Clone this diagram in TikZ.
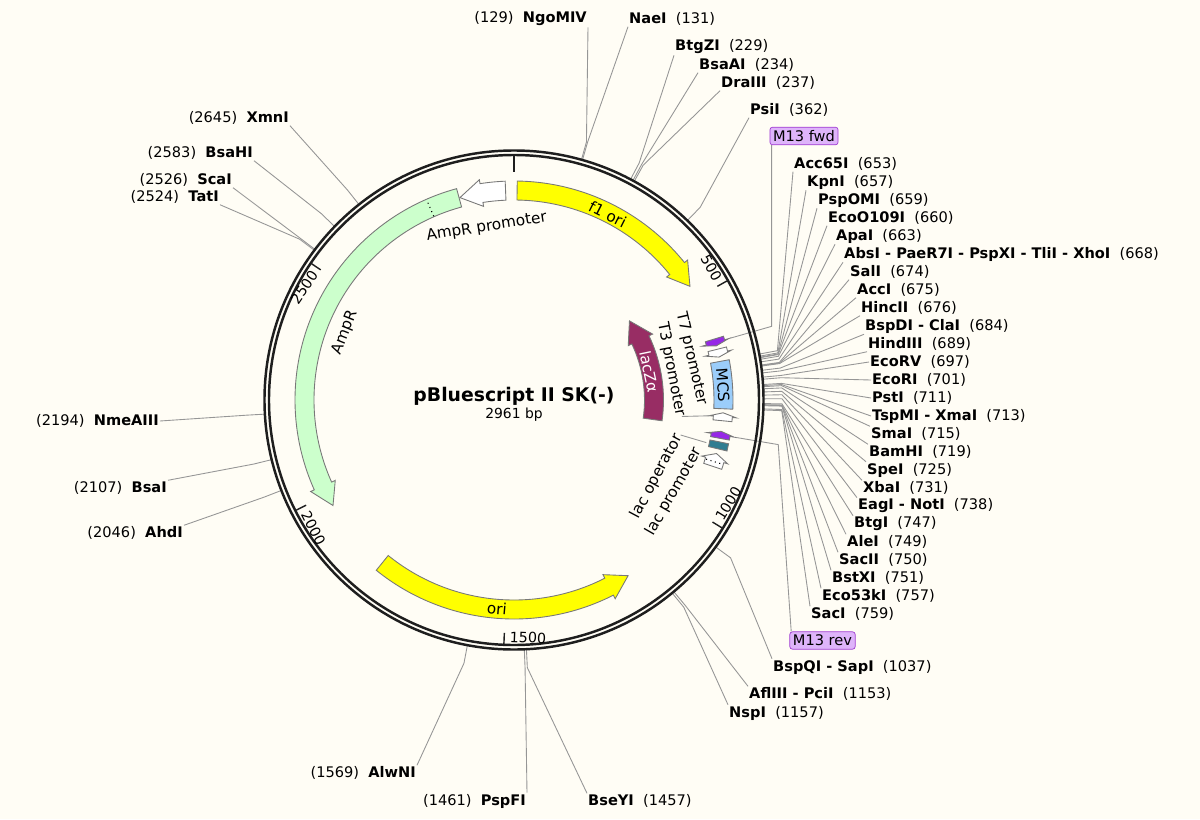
\documentclass[tikz,border=0pt]{standalone}
\usepackage{fontspec}
\setmainfont{DejaVu Sans}
\usetikzlibrary{positioning}

\definecolor{paper}{RGB}{255,253,245}
\definecolor{ringcol}{RGB}{30,30,30}
\definecolor{leadcol}{RGB}{150,150,150}
\definecolor{featedge}{RGB}{120,120,120}
\definecolor{oriyellow}{RGB}{255,255,0}
\definecolor{ampgreen}{RGB}{204,255,204}
\definecolor{lacZcol}{RGB}{152,45,100}
\definecolor{mcsblue}{RGB}{155,205,250}
\definecolor{primcol}{RGB}{150,40,230}
\definecolor{opcol}{RGB}{48,125,145}
\definecolor{tagfill}{RGB}{222,180,250}
\definecolor{tagline}{RGB}{160,60,210}

% position on the map (bp) -> polar angle
\pgfmathdeclarefunction{site}{1}{\pgfmathparse{90-#1*0.12158}}

\tikzset{
  enz/.style={font=\fontsize{8.3}{10}\selectfont, inner sep=0.5pt},
  flbl/.style={font=\fontsize{8.7}{10}\selectfont, inner sep=0pt},
  ticklbl/.style={font=\fontsize{8.1}{10}\selectfont, inner sep=0pt},
  leader/.style={draw=leadcol, line width=0.5pt},
  ring/.style={draw=ringcol, line width=1.4pt},
  tickmark/.style={draw=ringcol, line width=0.8pt},
  featline/.style={draw=featedge, line width=0.5pt},
  yel/.style={featline, fill=oriyellow},
  amp/.style={featline, fill=ampgreen},
  blank/.style={featline, fill=white},
  lacz/.style={featline, fill=lacZcol},
  mcs/.style={featline, fill=mcsblue},
  prim/.style={featline, fill=primcol},
  oper/.style={featline, fill=opcol},
  tag/.style={draw=tagline, fill=tagfill, rounded corners=1.5pt, inner sep=1.8pt,
    font=\fontsize{8.3}{10}\selectfont}
}

% curved feature arrow: tail bp, tip bp, mid radius, style
\newcommand{\feat}[4]{%
  \pgfmathsetmacro\fta{site(#1)}%
  \pgfmathsetmacro\ftb{site(#2)}%
  \pgfmathsetmacro\fthd{min(22/#3*57.2958,0.5*abs(\fta-\ftb))}%
  \pgfmathsetmacro\fth{\ftb+ifthenelse(\fta>\ftb,1,-1)*\fthd}%
  \pgfmathsetmacro\ftri{#3-9.5}%
  \pgfmathsetmacro\ftro{#3+9.5}%
  \path[#4] (\fta:\ftro) arc[start angle=\fta, end angle=\fth, radius=\ftro]
    -- (\fth:{\ftro+4}) -- (\ftb:#3) -- (\fth:{\ftri-4}) -- (\fth:\ftri)
    arc[start angle=\fth, end angle=\fta, radius=\ftri] -- cycle;
}
% curved feature box: from bp, to bp, mid radius, style
\newcommand{\featbox}[4]{%
  \pgfmathsetmacro\fta{site(#1)}%
  \pgfmathsetmacro\ftb{site(#2)}%
  \pgfmathsetmacro\ftri{#3-9.5}%
  \pgfmathsetmacro\ftro{#3+9.5}%
  \path[#4] (\fta:\ftro) arc[start angle=\fta, end angle=\ftb, radius=\ftro]
    -- (\ftb:\ftri) arc[start angle=\ftb, end angle=\fta, radius=\ftri] -- cycle;
}

\begin{document}
\begin{tikzpicture}[x=0.02cm, y=0.02cm]
  \useasboundingbox (-514,-419) rectangle (686,400);
  \fill[paper] (-514,-419) rectangle (686,400);

  % enzymes, name first
  \foreach \p/\nm/\lx/\ly/\att in {131/NaeI/628/19/south west, 229/BtgZI/674/47/south west,
      234/BsaAI/698/65/south west, 237/DraIII/720/83/south west, 362/PsiI/749/110/south west,
      653/Acc65I/793/164/south west, 657/KpnI/806/182/south west, 659/PspOMI/817/200/south west,
      660/EcoO109I/827/218/south west, 663/ApaI/835/236/south west,
      668/AbsI - PaeR7I - PspXI - TliI - XhoI/843/254/south west,
      674/SalI/849/272/south west, 675/AccI/856/290/south west, 676/HincII/860/308/south west,
      684/BspDI - ClaI/864/326/south west, 689/HindIII/867/344/south west,
      697/EcoRV/869/362/west, 701/EcoRI/871/380/west, 711/PstI/871/398/west,
      713/TspMI - XmaI/871/416/west, 715/SmaI/870/434/north west, 719/BamHI/868/452/north west,
      725/SpeI/866/470/north west, 731/XbaI/862/488/north west, 738/EagI - NotI/857/506/north west,
      747/BtgI/853/524/north west, 749/AleI/846/542/north west, 750/SacII/838/560/north west,
      751/BstXI/831/578/north west, 757/Eco53kI/821/596/north west, 759/SacI/810/614/north west,
      1037/BspQI - SapI/772/667/north west, 1153/AflIII - PciI/748/694/north west,
      1157/NspI/728/713/north west, 1457/BseYI/587/801/north west}
  {
    \node[enz, anchor=west] (r\p) at ({\lx-514},{400-\ly}) {\textbf{\nm}~~(\p)};
    \coordinate (s\p) at ({site(\p)}:249);
    \draw[leader] (s\p) -- ({site(\p)}:268) -- (r\p.\att);
  }
  % enzymes, position first
  \foreach \p/\nm/\rx/\ry/\att in {129/NgoMIV/588/19/south east, 2645/XmnI/290/118/south east,
      2583/BsaHI/254/153/south east, 2526/ScaI/233/180/south east, 2524/TatI/220/197/south east,
      2194/NmeAIII/160/421/east, 2107/BsaI/168/488/north east, 2046/AhdI/184/533/north east,
      1569/AlwNI/417/773/north east, 1461/PspFI/527/801/north east}
  {
    \node[enz, anchor=east] (l\p) at ({\rx-514},{400-\ry}) {(\p)~~\textbf{\nm}};
    \coordinate (s\p) at ({site(\p)}:249);
    \draw[leader] (s\p) -- ({site(\p)}:268) -- (l\p.\att);
  }

  % primer tags
  \node[tag] (m13f) at (290,264) {M13 fwd};
  \node[tag] (m13r) at (308.5,-240.5) {M13 rev};
  \coordinate (m13fs) at ({site(609)}:268);
  \coordinate (m13rs) at ({site(819)}:268);
  \draw[leader] ({site(609)}:224) -- (m13fs) -- (m13fs |- m13f.south);
  \draw[leader] ({site(819)}:224) -- (m13rs) -- ([xshift=1pt]m13r.north west);

  % backbone
  \draw[ring] (0,0) circle (249.5);
  \draw[ring] (0,0) circle (245);
  \draw[ringcol, line width=1.7pt] (90:245) -- (90:228);
  \foreach \t/\rot/\anc in {500/-90/east, 1000/90/west, 1500/90/west, 2000/90/west, 2500/-90/east}
  {
    \draw[tickmark] ({site(\t)}:244) -- ({site(\t)}:233);
    \node[ticklbl, anchor=\anc, rotate={site(\t)+\rot}] (k\t) at ({site(\t)+1.3}:237) {\t};
  }

  % features
  \feat{7}{470}{209.5}{yel}
  \feat{2942}{2838}{209.5}{blank}
  \feat{2836}{1972}{209.5}{amp}
  \draw[dotted, line width=0.6pt] ({site(2767)}:200.5) -- ({site(2767)}:218.5);
  \feat{1801}{1209}{209.5}{yel}
  \feat{806}{457}{140}{lacz}
  \feat{601}{617}{209.5}{prim}
  \feat{625}{643}{209.5}{blank}
  \featbox{653}{760}{209.5}{mcs}
  \feat{787}{769}{209.5}{blank}
  \feat{827}{811}{209.5}{prim}
  \featbox{835}{851}{209.5}{oper}
  \feat{892}{862}{209.5}{blank}
  \draw[dotted, line width=0.6pt] ({site(881)}:201) -- ({site(881)}:218);

  % feature labels
  \node[flbl, rotate={site(220)-90}] (f1lbl) at ({site(220)}:208) {f1 ori};
  \node[flbl, rotate={site(1519)+90}] (orilbl) at ({site(1519)}:209.5) {ori};
  \node[flbl, rotate={site(2400)-90}] (amplbl) at ({site(2400)}:182) {AmpR};
  \node[flbl, rotate={site(2887)-90}] (ampplbl) at ({site(2887)}:175) {AmpR promoter};
  \node[flbl, text=white, rotate={site(643)-90}] (lacZlbl) at ({site(643)}:138) {lacZα};
  \node[flbl, rotate={site(707)-90}] (mcslbl) at ({site(707)}:209.5) {MCS};
  \node[flbl, rotate={site(633)-90}] (t7lbl) at ({site(633)}:182) {T7 promoter};
  \node[flbl, rotate={site(650)-90}] (t3lbl) at ({site(650)}:160) {T3 promoter};
  \node[flbl, rotate={site(971)+90}] (oplbl) at ({site(971)}:162) {lac operator};
  \node[flbl, rotate={site(985)+90}] (lacplbl) at ({site(985)}:184.5) {lac promoter};
  \draw[leader] ([xshift=1pt]t3lbl.east) -- ({site(778)}:197);
  \draw[leader] ([xshift=1pt]oplbl.east) -- ({site(843)}:197);

  % name and size
  \node[inner sep=0pt, font=\bfseries\fontsize{10.7}{12}\selectfont] (title) at (0,4) {pBluescript II SK(-)};
  \node[inner sep=0pt, font=\fontsize{7.9}{10}\selectfont, below=1pt of title] (size) {2961 bp};
\end{tikzpicture}
\end{document}
